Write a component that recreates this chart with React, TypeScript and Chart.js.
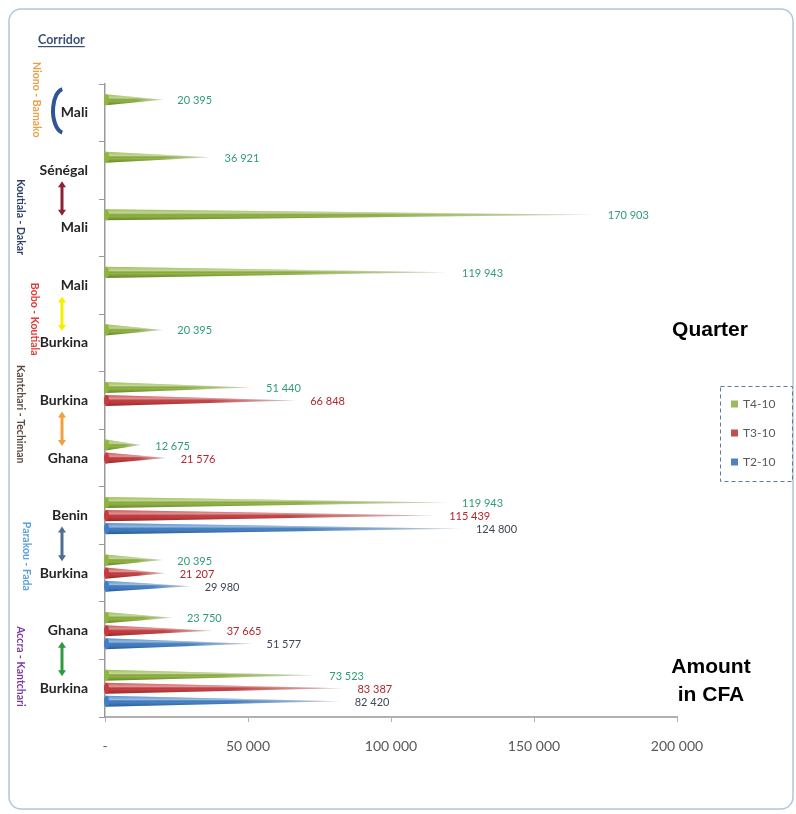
import React, { useEffect, useRef } from 'react';
import { Chart, registerables } from 'chart.js';

Chart.register(...registerables);

// ---------- data ----------
const categories = ['Mali', 'Sénégal', 'Mali', 'Mali', 'Burkina', 'Burkina', 'Ghana', 'Benin', 'Burkina', 'Ghana', 'Burkina'];
const seriesT4: (number | null)[] = [20395, 36921, 170903, 119943, 20395, 51440, 12675, 119943, 20395, 23750, 73523];
const seriesT3: (number | null)[] = [null, null, null, null, null, 66848, 21576, 115439, 21207, 37665, 83387];
const seriesT2: (number | null)[] = [null, null, null, null, null, null, null, 124800, 29980, 51577, 82420];
const seriesLabels = ['T4-10', 'T3-10', 'T2-10'];
const xTickLabels = ['-', '50 000', '100 000', '150 000', '200 000'];
const corridorNames = ['Niono - Bamako', 'Koutiala - Dakar', 'Bobo - Koutiala', 'Kantchari - Techiman', 'Parakou - Fada', 'Accra - Kantchari'];
const corridorFirstCategory = [0, 1, 3, 5, 7, 9];
const corridorLastCategory = [0, 2, 4, 6, 8, 10];

// ---------- styles ----------
const coneColors = ['#8fb53d', '#c93a3c', '#3e7fc8'];
const legendColors = ['#9bbb59', '#c0504d', '#4f81bd'];
const valueLabelColors = ['#2f9e72', '#b3262c', '#3d4757'];
const corridorColors = ['#e8a04a', '#2b3f6b', '#e53935', '#5b4a3f', '#5aa0dc', '#7a3aa0'];
const corridorTextX = [36, 20, 34, 20, 26, 20];
const corridorTextShift = [-13, 18, 5, -15, 12, 7];
const arrowColors = ['#2f5597', '#8b2332', '#f2f000', '#f0a040', '#4d6e8f', '#2e9a3e'];

const fmt = (v: number) => Math.round(v).toString().replace(/\B(?=(\d{3})+(?!\d))/g, ' ');

function hexToRgba(hex: string, a: number) {
  const h = hex.replace('#', '');
  const r = parseInt(h.slice(0, 2), 16);
  const g = parseInt(h.slice(2, 4), 16);
  const b = parseInt(h.slice(4, 6), 16);
  return `rgba(${r},${g},${b},${a})`;
}

function drawCone(ctx: CanvasRenderingContext2D, x0: number, x1: number, yc: number, h: number, color: string) {
  const top = yc - h / 2;
  const bot = yc + h / 2;
  ctx.save();
  ctx.beginPath();
  ctx.moveTo(x0, top);
  ctx.lineTo(x1, yc);
  ctx.lineTo(x0, bot);
  ctx.closePath();
  const g = ctx.createLinearGradient(x0, 0, x1, 0);
  g.addColorStop(0, hexToRgba(color, 1));
  g.addColorStop(0.55, hexToRgba(color, 0.95));
  g.addColorStop(1, hexToRgba(color, 0.15));
  ctx.fillStyle = g;
  ctx.fill();
  ctx.clip();
  const v = ctx.createLinearGradient(0, top, 0, bot);
  v.addColorStop(0, 'rgba(255,255,255,0.15)');
  v.addColorStop(0.35, 'rgba(255,255,255,0.45)');
  v.addColorStop(0.6, 'rgba(0,0,0,0)');
  v.addColorStop(1, 'rgba(0,0,0,0.28)');
  ctx.fillStyle = v;
  ctx.fillRect(x0, top, x1 - x0, h);
  ctx.restore();
  // rounded base
  ctx.save();
  ctx.beginPath();
  ctx.ellipse(x0 + 1, yc, 2.5, h / 2, 0, 0, Math.PI * 2);
  ctx.fillStyle = hexToRgba(color, 1);
  ctx.fill();
  ctx.restore();
}

function drawDoubleArrow(ctx: CanvasRenderingContext2D, x: number, y0: number, y1: number, color: string) {
  ctx.save();
  ctx.strokeStyle = color;
  ctx.fillStyle = color;
  ctx.lineWidth = 3;
  ctx.beginPath();
  ctx.moveTo(x, y0 + 5);
  ctx.lineTo(x, y1 - 5);
  ctx.stroke();
  ctx.beginPath();
  ctx.moveTo(x, y0);
  ctx.lineTo(x - 4, y0 + 6);
  ctx.lineTo(x + 4, y0 + 6);
  ctx.closePath();
  ctx.fill();
  ctx.beginPath();
  ctx.moveTo(x, y1);
  ctx.lineTo(x - 4, y1 - 6);
  ctx.lineTo(x + 4, y1 - 6);
  ctx.closePath();
  ctx.fill();
  ctx.restore();
}

const conePlugin = {
  id: 'cones',
  afterDatasetsDraw(chart: any) {
    const ctx: CanvasRenderingContext2D = chart.ctx;
    chart.data.datasets.forEach((ds: any, i: number) => {
      const meta = chart.getDatasetMeta(i);
      meta.data.forEach((el: any, j: number) => {
        const val = ds.data[j];
        if (val == null) return;
        const p = el.getProps(['x', 'y', 'base', 'height'], true);
        drawCone(ctx, p.base, p.x, p.y, p.height, coneColors[i]);
      });
    });
    // value labels
    chart.data.datasets.forEach((ds: any, i: number) => {
      const meta = chart.getDatasetMeta(i);
      meta.data.forEach((el: any, j: number) => {
        const val = ds.data[j];
        if (val == null) return;
        const p = el.getProps(['x', 'y'], true);
        ctx.save();
        ctx.font = '11px Lato';
        ctx.fillStyle = valueLabelColors[i];
        ctx.textAlign = 'left';
        ctx.textBaseline = 'middle';
        ctx.fillText(fmt(val), p.x + 14, p.y + 1);
        ctx.restore();
      });
    });
  },
};

const decorPlugin = {
  id: 'decor',
  afterDraw(chart: any) {
    const ctx: CanvasRenderingContext2D = chart.ctx;
    const yScale = chart.scales.y;
    // frame
    ctx.save();
    ctx.strokeStyle = '#b3c6da';
    ctx.lineWidth = 1.5;
    ctx.beginPath();
    (ctx as any).roundRect(9, 9, 784, 800, 12);
    ctx.stroke();
    ctx.restore();

    // Corridor heading
    ctx.save();
    ctx.font = 'bold 12.5px Lato';
    ctx.fillStyle = '#3b5078';
    ctx.textBaseline = 'alphabetic';
    ctx.fillText('Corridor', 38, 44);
    const w = ctx.measureText('Corridor').width;
    ctx.fillRect(38, 46, w, 1.2);
    ctx.restore();

    // rotated corridor names
    corridorNames.forEach((name, k) => {
      const a = yScale.getPixelForValue(corridorFirstCategory[k]);
      const b = yScale.getPixelForValue(corridorLastCategory[k]);
      const yc = (a + b) / 2 + corridorTextShift[k];
      ctx.save();
      ctx.translate(corridorTextX[k], yc);
      ctx.rotate(Math.PI / 2);
      ctx.font = 'bold 10.5px Lato';
      ctx.fillStyle = corridorColors[k];
      ctx.textAlign = 'center';
      ctx.textBaseline = 'middle';
      ctx.fillText(name, 0, 0);
      ctx.restore();
    });

    // bracket for the single-category corridor
    {
      const yc = yScale.getPixelForValue(0);
      ctx.save();
      ctx.strokeStyle = arrowColors[0];
      ctx.lineWidth = 4;
      ctx.beginPath();
      ctx.ellipse(64, yc - 2, 11, 22, 0, Math.PI * 0.55, Math.PI * 1.45);
      ctx.stroke();
      ctx.restore();
    }
    // double arrows between country pairs
    for (let k = 1; k < corridorNames.length; k++) {
      const a = yScale.getPixelForValue(corridorFirstCategory[k]);
      const b = yScale.getPixelForValue(corridorLastCategory[k]);
      drawDoubleArrow(ctx, 62, a + 11, b - 12, arrowColors[k]);
    }

    // axis captions
    ctx.save();
    ctx.font = 'bold 21px "Liberation Sans", Arial';
    ctx.fillStyle = '#000';
    ctx.textAlign = 'center';
    ctx.textBaseline = 'middle';
    ctx.fillText('Quarter', 710, 330);
    ctx.fillText('Amount', 711, 667);
    ctx.fillText('in CFA', 711, 695);
    ctx.restore();

    // legend
    ctx.save();
    ctx.strokeStyle = '#5b7ba0';
    ctx.lineWidth = 1;
    ctx.setLineDash([4, 3]);
    ctx.strokeRect(720.5, 386.5, 72, 95);
    ctx.setLineDash([]);
    seriesLabels.forEach((lab, k) => {
      const y = 404 + k * 29;
      ctx.fillStyle = legendColors[k];
      ctx.fillRect(731, y - 3.5, 7, 7);
      ctx.fillStyle = '#595959';
      ctx.font = '12px Lato';
      ctx.textBaseline = 'middle';
      ctx.textAlign = 'left';
      ctx.fillText(lab, 743, y);
    });
    ctx.restore();
  },
};

export default function App() {
  const canvasRef = useRef<HTMLCanvasElement | null>(null);

  useEffect(() => {
    if (!canvasRef.current) return;
    const chart = new Chart(canvasRef.current, {
      type: 'bar',
      data: {
        labels: categories,
        datasets: [
          { label: seriesLabels[0], data: seriesT4, backgroundColor: 'rgba(0,0,0,0)', borderWidth: 0 },
          { label: seriesLabels[1], data: seriesT3, backgroundColor: 'rgba(0,0,0,0)', borderWidth: 0 },
          { label: seriesLabels[2], data: seriesT2, backgroundColor: 'rgba(0,0,0,0)', borderWidth: 0 },
        ],
      },
      options: {
        indexAxis: 'y',
        animation: false,
        responsive: true,
        maintainAspectRatio: false,
        categoryPercentage: 0.68,
        barPercentage: 0.85,
        layout: { padding: { left: 0, right: 119, top: 84, bottom: 0 } },
        plugins: { legend: { display: false }, tooltip: { enabled: false } },
        scales: {
          x: {
            type: 'linear',
            min: 0,
            max: 200000,
            ticks: {
              stepSize: 50000,
              color: '#595959',
              font: { family: 'Lato', size: 14 },
              padding: 16,
              callback: (value: any, index: number) => xTickLabels[index] ?? fmt(Number(value)),
            },
            grid: { drawOnChartArea: false, tickLength: 5, color: '#b0b0b0' },
            border: { color: '#b0b0b0', width: 2 },
            afterFit: (scale: any) => { scale.height = 97; },
          },
          y: {
            type: 'category',
            ticks: {
              color: '#262626',
              font: { family: 'Lato', size: 14, weight: 'bold' },
              padding: 11,
            },
            grid: { drawOnChartArea: false, tickLength: 6, color: '#9a9a9a', offset: true },
            border: { color: '#9a9a9a', width: 1.5 },
            afterFit: (scale: any) => { scale.width = 105; },
          },
        },
      } as any,
      plugins: [conePlugin, decorPlugin],
    });
    return () => chart.destroy();
  }, []);

  return (
    <div style={{ position: 'fixed', left: 0, top: 0, width: 796, height: 814, background: '#fff' }}>
      <canvas ref={canvasRef} />
    </div>
  );
}
